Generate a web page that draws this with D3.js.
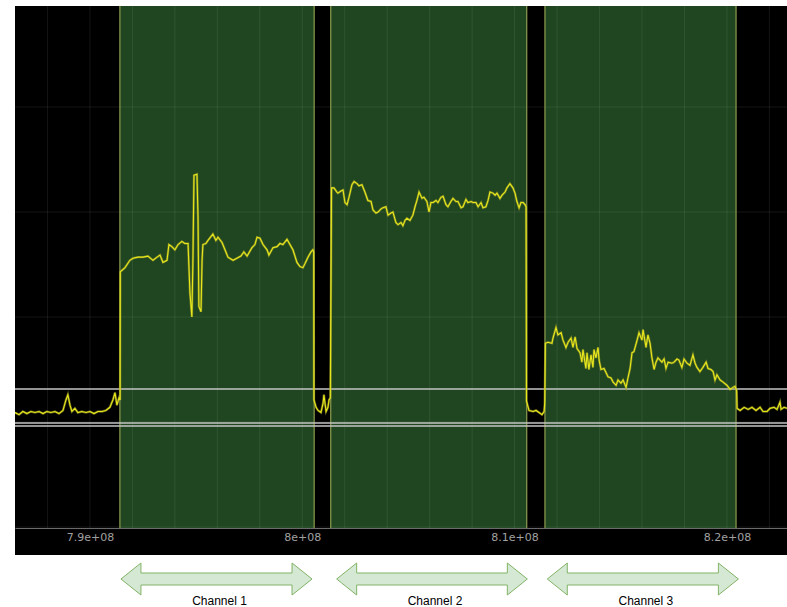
<!DOCTYPE html>
<html>
<head>
<meta charset="utf-8">
<script src="https://d3js.org/d3.v7.min.js"></script>
<style>
  body { margin: 0; background: #fff; }
</style>
</head>
<body>
<div id="chart"></div>
<script>
var w = 787;
var h = 607;

// frequency in MHz, level in arbitrary units (10 per grid row)
var xDomain = [786.47, 822.83];
var yDomain = [0, 49.62];
var xTickValues = [790, 800, 810, 820];

var channelNames = ["Channel 1", "Channel 2", "Channel 3"];
var channelStart = [791.41, 801.34, 811.43];
var channelEnd = [800.56, 810.57, 820.43];
var arrowFrom = [791.46, 801.62, 811.54];
var arrowTo = [800.46, 810.60, 820.54];

var thresholdLevels = [13.14, 9.9, 9.62];

// trace pieces: [MHz, level]
var baseLeft = [[786.47,10.9],[786.66,10.7],[786.84,11.0],[787.03,10.8],[787.22,11.0],[787.41,10.9],[787.60,11.0],[787.79,10.8],[787.97,11.0],[788.16,10.9],[788.35,11.0],[788.54,10.8],[788.73,11.1],[788.87,12.1],[788.96,12.6],[789.06,11.6],[789.15,11.0],[789.29,11.3],[789.43,10.9],[789.62,11.0],[789.81,10.9],[790.00,11.0],[790.19,10.8],[790.38,11.0],[790.57,11.0],[790.75,11.1],[790.94,11.4],[791.08,12.1],[791.18,12.8],[791.27,11.6],[791.37,12.3],[791.42,12.1]];
var chan1 = [[791.43,24.3],[791.65,24.7],[791.88,25.4],[792.03,25.6],[792.26,25.7],[792.50,25.7],[792.73,25.8],[792.97,25.4],[793.16,25.7],[793.30,25.9],[793.44,25.2],[793.63,25.4],[793.72,26.9],[793.86,26.7],[794.00,26.4],[794.15,26.9],[794.33,27.2],[794.47,27.0],[794.62,27.0],[794.71,22.3],[794.80,20.0],[794.85,25.4],[794.90,33.5],[795.04,33.6],[795.09,29.5],[795.13,21.0],[795.23,20.5],[795.28,25.4],[795.32,26.9],[795.46,27.0],[795.56,27.3],[795.79,27.9],[795.93,27.3],[796.03,27.6],[796.22,27.1],[796.36,26.4],[796.50,25.7],[796.74,25.4],[796.92,25.6],[797.11,25.8],[797.25,26.2],[797.40,25.8],[797.63,26.6],[797.77,26.9],[797.87,27.6],[798.01,27.5],[798.15,26.9],[798.34,26.4],[798.43,25.9],[798.62,26.6],[798.81,26.7],[798.95,27.0],[799.09,26.9],[799.28,27.4],[799.42,26.9],[799.56,26.4],[799.75,25.2],[799.89,24.8],[800.03,24.7],[800.13,25.1],[800.27,25.7],[800.41,26.2],[800.50,26.4],[800.54,26.2]];
var gap1 = [[800.55,12.1],[800.65,11.4],[800.74,11.1],[800.88,10.9],[800.98,11.8],[801.02,12.6],[801.12,11.0],[801.21,11.4],[801.26,12.1],[801.32,12.3]];
var chan2 = [[801.38,32.3],[801.49,32.3],[801.63,31.9],[801.68,31.8],[801.82,32.0],[801.92,32.1],[802.01,30.9],[802.11,30.7],[802.20,31.4],[802.34,32.6],[802.44,32.9],[802.58,32.7],[802.67,32.5],[802.81,32.6],[802.95,31.9],[803.09,31.1],[803.24,31.0],[803.33,30.2],[803.47,29.9],[803.57,30.0],[803.71,30.3],[803.80,30.4],[803.94,30.5],[804.04,29.7],[804.18,29.9],[804.27,30.0],[804.41,29.0],[804.51,28.8],[804.65,29.0],[804.74,28.7],[804.84,29.2],[804.93,29.4],[805.07,29.2],[805.21,29.7],[805.31,30.5],[805.40,31.1],[805.50,31.9],[805.64,31.3],[805.73,31.4],[805.87,31.0],[805.97,30.0],[806.06,30.9],[806.16,30.9],[806.30,31.1],[806.39,30.9],[806.53,31.4],[806.63,31.5],[806.77,30.7],[806.86,30.5],[807.00,31.0],[807.10,31.3],[807.24,31.0],[807.33,31.0],[807.48,30.4],[807.57,30.5],[807.71,31.2],[807.80,30.9],[807.95,31.0],[808.04,30.9],[808.18,30.9],[808.28,30.5],[808.42,30.9],[808.51,30.4],[808.65,30.5],[808.75,31.1],[808.84,31.9],[808.98,31.8],[809.08,31.6],[809.17,31.8],[809.31,31.3],[809.41,31.6],[809.55,31.9],[809.64,32.3],[809.78,32.7],[809.92,32.3],[810.02,31.8],[810.11,31.0],[810.21,30.4],[810.30,30.9],[810.40,30.9],[810.49,30.7],[810.54,30.5]];
var gap2 = [[810.56,12.0],[810.68,11.1],[810.87,11.0],[811.01,11.1],[811.15,10.9],[811.29,10.7],[811.39,11.0],[811.42,11.8]];
var chan3 = [[811.45,17.5],[811.57,17.6],[811.76,17.5],[811.81,18.0],[811.95,19.0],[812.04,18.3],[812.19,18.5],[812.28,17.8],[812.42,17.1],[812.52,17.6],[812.66,18.0],[812.75,17.1],[812.85,18.1],[812.94,17.0],[813.08,16.6],[813.17,15.7],[813.22,16.9],[813.36,15.1],[813.41,16.6],[813.50,15.0],[813.60,16.4],[813.69,15.2],[813.74,16.9],[813.83,16.1],[813.93,17.1],[813.98,15.9],[814.07,15.0],[814.21,15.1],[814.31,14.7],[814.40,14.3],[814.54,14.2],[814.64,13.8],[814.78,13.5],[814.87,14.0],[815.01,13.7],[815.11,14.0],[815.25,13.3],[815.34,14.2],[815.44,15.1],[815.53,16.6],[815.62,16.7],[815.77,17.8],[815.86,18.5],[816.00,17.8],[816.05,18.8],[816.19,17.1],[816.28,18.3],[816.38,17.5],[816.47,16.1],[816.57,15.0],[816.66,15.7],[816.75,16.1],[816.94,15.7],[817.04,16.0],[817.13,15.1],[817.23,15.7],[817.41,15.6],[817.51,15.7],[817.65,16.0],[817.74,15.9],[817.88,15.2],[817.98,16.0],[818.12,15.6],[818.26,15.4],[818.40,16.4],[818.50,15.6],[818.59,15.2],[818.73,14.8],[818.87,15.2],[819.02,15.7],[819.11,15.1],[819.25,15.0],[819.35,14.8],[819.44,14.0],[819.53,14.5],[819.68,14.0],[819.82,13.8],[820.00,13.5],[820.15,13.1],[820.29,13.3],[820.38,13.4],[820.46,13.0]];
var baseRight = [[820.48,11.3],[820.62,11.1],[820.81,11.4],[821.00,11.2],[821.18,11.4],[821.37,11.1],[821.56,11.4],[821.70,11.0],[821.89,11.0],[822.03,11.3],[822.22,11.4],[822.36,11.2],[822.50,11.9],[822.55,11.2],[822.69,11.4],[822.83,11.3]];

var trace = [].concat(baseLeft, chan1, gap1, chan2, gap2, chan3, baseRight);

var plotLeft = 15, plotRight = 787, plotTop = 6, plotBottom = 528, stripBottom = 555;

var xScale = d3.scaleLinear().domain(xDomain).range([plotLeft, plotRight]);
var yScale = d3.scaleLinear().domain(yDomain).range([527, plotTop]);

var svg = d3.select("#chart")
            .append("svg")
            .attr("width", w)
            .attr("height", h)
            .style("display", "block");

svg.append("defs").append("clipPath")
    .attr("id", "plotclip")
    .append("rect")
    .attr("x", plotLeft).attr("y", plotTop)
    .attr("width", plotRight - plotLeft).attr("height", plotBottom - plotTop);

// black background incl. axis strip
svg.append("rect")
    .attr("x", plotLeft).attr("y", plotTop)
    .attr("width", plotRight - plotLeft).attr("height", stripBottom - plotTop)
    .attr("fill", "#000");

// channel bands
svg.selectAll("rect.band")
    .data(channelStart)
    .enter()
    .append("rect")
    .attr("class", "band")
    .attr("x", function(d) { return xScale(d); })
    .attr("y", plotTop)
    .attr("width", function(d, i) { return xScale(channelEnd[i]) - xScale(d); })
    .attr("height", plotBottom - plotTop)
    .attr("fill", "#1f4620");

// grid
svg.selectAll("line.vgrid")
    .data(xScale.ticks(18))
    .enter()
    .append("line")
    .attr("class", "vgrid")
    .attr("x1", function(d) { return xScale(d); })
    .attr("x2", function(d) { return xScale(d); })
    .attr("y1", plotTop).attr("y2", plotBottom)
    .attr("stroke", "#fff").attr("stroke-opacity", 0.08);

svg.selectAll("line.hgrid")
    .data(yScale.ticks(5))
    .enter()
    .append("line")
    .attr("class", "hgrid")
    .attr("x1", plotLeft).attr("x2", plotRight)
    .attr("y1", function(d) { return yScale(d); })
    .attr("y2", function(d) { return yScale(d); })
    .attr("stroke", "#fff").attr("stroke-opacity", 0.08);

// band edges
var edges = channelStart.concat(channelEnd);
svg.selectAll("line.edge")
    .data(edges)
    .enter()
    .append("line")
    .attr("class", "edge")
    .attr("x1", function(d) { return xScale(d); })
    .attr("x2", function(d) { return xScale(d); })
    .attr("y1", plotTop).attr("y2", plotBottom)
    .attr("stroke", "#85944a").attr("stroke-width", 1.3);

// threshold lines
svg.selectAll("line.thr")
    .data(thresholdLevels)
    .enter()
    .append("line")
    .attr("class", "thr")
    .attr("x1", plotLeft).attr("x2", plotRight)
    .attr("y1", function(d) { return yScale(d); })
    .attr("y2", function(d) { return yScale(d); })
    .attr("stroke", "#c4c4c4").attr("stroke-width", 1.5);

// trace
var line = d3.line()
    .x(function(d) { return xScale(d[0]); })
    .y(function(d) { return yScale(d[1]); });

var g = svg.append("g").attr("clip-path", "url(#plotclip)");
g.append("path")
    .datum(trace)
    .attr("d", line)
    .attr("fill", "none")
    .attr("stroke", "#9c9c24")
    .attr("stroke-opacity", 0.6)
    .attr("stroke-width", 2.4);
g.append("path")
    .datum(trace)
    .attr("d", line)
    .attr("fill", "none")
    .attr("stroke", "#e8e81c")
    .attr("stroke-width", 1.1);

// x axis
function sciFmt(v) {
    var s = d3.format(".2~e")(v * 1e6);
    return s.replace(/e([+-])(\d)$/, "e$10$2");
}

var axis = svg.append("g")
    .attr("transform", "translate(0," + plotBottom + ")")
    .call(d3.axisBottom(xScale).tickValues(xTickValues).tickSize(0).tickPadding(5).tickFormat(sciFmt));
axis.select(".domain").attr("stroke", "#6a6a6a");
axis.selectAll("text")
    .attr("fill", "#a0a0a0")
    .attr("font-family", "DejaVu Sans, sans-serif")
    .attr("font-size", "11px");

// channel arrows
var ay = 579, shaft = 6, head = 16, headLen = 20;
svg.selectAll("path.arrow")
    .data(arrowFrom)
    .enter()
    .append("path")
    .attr("class", "arrow")
    .attr("d", function(d, i) {
        var x0 = xScale(d), x1 = xScale(arrowTo[i]);
        return "M" + x0 + "," + ay +
            "L" + (x0 + headLen) + "," + (ay - head) +
            "L" + (x0 + headLen) + "," + (ay - shaft) +
            "L" + (x1 - headLen) + "," + (ay - shaft) +
            "L" + (x1 - headLen) + "," + (ay - head) +
            "L" + x1 + "," + ay +
            "L" + (x1 - headLen) + "," + (ay + head) +
            "L" + (x1 - headLen) + "," + (ay + shaft) +
            "L" + (x0 + headLen) + "," + (ay + shaft) +
            "L" + (x0 + headLen) + "," + (ay + head) + "Z";
    })
    .attr("fill", "#d5e8d4")
    .attr("stroke", "#82b366")
    .attr("stroke-width", 1);

svg.selectAll("text.chan")
    .data(channelNames)
    .enter()
    .append("text")
    .attr("class", "chan")
    .text(function(d) { return d; })
    .attr("text-anchor", "middle")
    .attr("x", function(d, i) { return (xScale(arrowFrom[i]) + xScale(arrowTo[i])) / 2 + 3; })
    .attr("y", 604.5)
    .attr("font-family", "Liberation Sans, Arial, sans-serif")
    .attr("font-size", "12px")
    .attr("fill", "#000");
</script>
</body>
</html>
